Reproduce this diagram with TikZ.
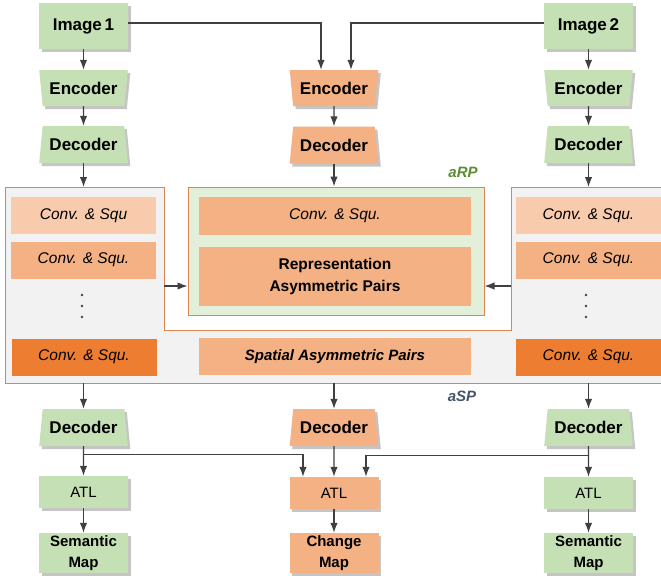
\documentclass[tikz,border=0pt]{standalone}
\usepackage{fontspec}
\setmainfont{Liberation Sans}
\usetikzlibrary{shapes.geometric,shadows,arrows.meta}
\definecolor{gbox}{HTML}{C5E0B4}
\definecolor{obox}{HTML}{F4B183}
\definecolor{pbox}{HTML}{F8CBAD}
\definecolor{dbox}{HTML}{ED7D31}
\definecolor{panel}{HTML}{F2F2F2}
\definecolor{rpfill}{HTML}{E2F0D9}
\definecolor{edge}{HTML}{DD8451}
\definecolor{arr}{HTML}{404040}
\definecolor{rplabel}{HTML}{5E8C31}
\definecolor{splabel}{HTML}{44546A}
\begin{document}
\begin{tikzpicture}[x=1pt,y=-1pt,
  shad/.style={drop shadow={shadow xshift=2.5pt,shadow yshift=-3pt,opacity=0.35,fill=black!65}},
  base/.style={inner sep=0pt, align=center, font=\bfseries\fontsize{17}{20}\selectfont},
  imgbox/.style={base, rectangle, fill=gbox, minimum width=89pt, minimum height=46pt, shad},
  encbox/.style={base, trapezium, trapezium stretches=true, trapezium left angle=103, trapezium right angle=103, minimum width=89pt, minimum height=36pt, shad},
  decbox/.style={base, trapezium, trapezium stretches=true, trapezium left angle=77, trapezium right angle=77, minimum width=89pt, minimum height=37pt, shad},
  atlbox/.style={inner sep=0pt, align=center, font=\fontsize{15}{18}\selectfont, minimum width=89pt, minimum height=32pt, shad},
  mapbox/.style={inner sep=0pt, align=center, font=\bfseries\fontsize{15}{21}\selectfont, minimum width=89pt, minimum height=40pt, shad},
  csbox/.style={inner sep=0pt, minimum width=145pt, minimum height=37pt, font=\itshape\fontsize{15.5}{18}\selectfont},
  midbox/.style={inner sep=0pt, fill=obox, minimum width=272pt, align=center},
  conn/.style={draw=arr, line width=1.3pt, -{Latex[length=10pt,width=7.5pt]}},
  lbl/.style={font=\bfseries\itshape\fontsize{15}{18}\selectfont},
  dotst/.style={fill=arr, circle, inner sep=0pt, minimum size=2.8pt}
]
\useasboundingbox (0,0) rectangle (661,582);
\clip (0,0) rectangle (661,582);
\fill[white] (0,0) rectangle (661,582);

% top row
\node[imgbox] (img1) at (83.5,26) {Image\,1};
\node[imgbox] (img2) at (588.5,26) {Image\,2};
\node[encbox, fill=gbox] (encL) at (83.5,88) {Encoder};
\node[encbox, fill=obox] (encC) at (334,88) {Encoder};
\node[encbox, fill=gbox] (encR) at (588.5,88) {Encoder};
\node[decbox, fill=gbox] (decL) at (83.5,144.5) {Decoder};
\node[decbox, fill=obox] (decC) at (334,145) {Decoder};
\node[decbox, fill=gbox] (decR) at (588.5,144.5) {Decoder};

% aSP panel
\draw[draw=edge, fill=panel, line width=1pt] (5,187) -- (164,187) -- (164,330) -- (511,330) -- (511,187) -- (664,187) -- (664,383) -- (5,383) -- cycle;
\coordinate (asptop) at (0,187);
\coordinate (aspbot) at (0,383);
\coordinate (lpE) at (164,286);
\coordinate (rpW) at (511,286);

% aRP box
\node[draw=edge, fill=rpfill, line width=1pt, minimum width=296pt, minimum height=128pt, inner sep=0pt] (aRP) at (336,251) {};
\node[midbox, minimum height=38pt, font=\itshape\fontsize{15.5}{18}\selectfont] (csC) at (335,216) {Conv. \& Squ.};
\node[midbox, minimum height=59pt, font=\bfseries\fontsize{15.5}{22}\selectfont] (repC) at (335,276.5) {Representation\\Asymmetric Pairs};
\node[midbox, minimum height=37pt, font=\bfseries\itshape\fontsize{15}{18}\selectfont] (spC) at (335,356.5) {Spatial Asymmetric Pairs};

% left column
\node[csbox, fill=pbox] (csL1) at (83.5,215.5) {Conv. \& Squ};
\node[csbox, fill=obox] (csL2) at (83.5,260) {Conv. \& Squ.};
\node[dotst] (dL1) at (82,295) {};
\node[dotst] (dL2) at (82,306) {};
\node[dotst] (dL3) at (82,317) {};
\node[csbox, fill=dbox] (csL3) at (84,357) {Conv. \& Squ.};

% right column
\node[csbox, fill=pbox] (csR1) at (588.5,215.5) {Conv. \& Squ.};
\node[csbox, fill=obox] (csR2) at (588.5,260) {Conv. \& Squ.};
\node[dotst] (dR1) at (586,295) {};
\node[dotst] (dR2) at (586,306) {};
\node[dotst] (dR3) at (586,317) {};
\node[csbox, fill=dbox] (csR3) at (588.5,357) {Conv. \& Squ.};

% labels
\node[lbl, text=rplabel] (lblRP) at (463,172) {aRP};
\node[lbl, text=splabel] (lblSP) at (462,396) {aSP};

% lower part
\node[decbox, fill=gbox] (decL2) at (83.5,427.5) {Decoder};
\node[decbox, fill=obox] (decC2) at (334,427.5) {Decoder};
\node[decbox, fill=gbox] (decR2) at (588.5,427.5) {Decoder};
\node[atlbox, fill=gbox] (atlL) at (83.5,492) {ATL};
\node[atlbox, fill=obox] (atlC) at (334,493) {ATL};
\node[atlbox, fill=gbox] (atlR) at (588.5,493) {ATL};
\node[mapbox, fill=gbox] (mapL) at (83.5,553) {Semantic\\Map};
\node[mapbox, fill=obox] (mapC) at (334,553) {Change\\Map};
\node[mapbox, fill=gbox] (mapR) at (588.5,553) {Semantic\\Map};

% connectors top
\draw[conn] ([yshift=3pt]img1.east) -| ([xshift=-13pt]encC.north);
\draw[conn] ([yshift=3pt]img2.west) -| ([xshift=17pt]encC.north);
\draw[conn] (img1) -- (encL);
\draw[conn] (img2) -- (encR);
\draw[conn] (encL) -- (decL);
\draw[conn] (encC) -- (decC);
\draw[conn] (encR) -- (decR);
\draw[conn] (decL.south) -- (decL.south |- asptop);
\draw[conn] (decC.south) -- (aRP.north -| decC.south);
\draw[conn] (decR.south) -- (decR.south |- asptop);
\draw[conn] (lpE) -- (lpE -| aRP.west);
\draw[conn] (rpW) -- (rpW -| aRP.east);

% connectors bottom
\draw[conn] (decL2.north |- aspbot) -- (decL2.north);
\draw[conn] (decC2.north |- aspbot) -- (decC2.north);
\draw[conn] (decR2.north |- aspbot) -- (decR2.north);
\draw[conn] (decL2.south) -- (atlL.north);
\draw[conn] (decC2.south) -- (atlC.north);
\draw[conn] (decR2.south) -- (atlR.north);
\draw[conn] ([yshift=-8pt]decL2.south) -| ([xshift=-31pt]atlC.north);
\draw[conn] ([yshift=-9pt]decR2.south) -| ([xshift=32pt]atlC.north);
\draw[conn] (atlL) -- (mapL);
\draw[conn] (atlC) -- (mapC);
\draw[conn] (atlR) -- (mapR);
\end{tikzpicture}
\end{document}
